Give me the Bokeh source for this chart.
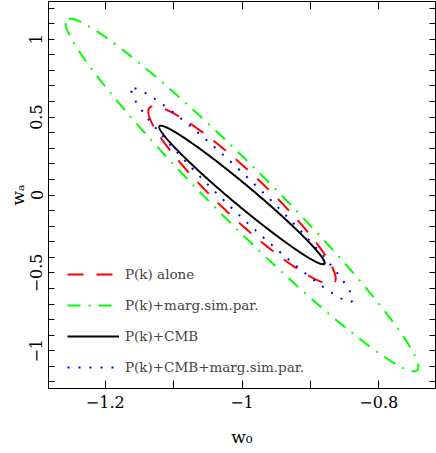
import numpy as np
from bokeh.plotting import figure
from bokeh.models import Range1d, LinearAxis, FixedTicker, Legend, LegendItem
from bokeh.embed import file_html
from bokeh.resources import INLINE

# ---------------- data ----------------
labels = ["P(k) alone", "P(k)+marg.sim.par.", "P(k)+CMB", "P(k)+CMB+marg.sim.par."]
colors = ["#ff0000", "#00ff00", "#000000", "#0000ff"]
dashes = ["16 13", "13 8 2 8", "solid", "2 9"]
w0_fid = -1.0
wa_fid = 0.0
w0_extent = [0.137, 0.258, 0.121, 0.162]   # half-extent of contour along w0
wa_extent = [0.570, 1.132, 0.445, 0.685]   # half-extent of contour along wa
rho = [-0.94, -0.975, -0.981, -0.977]      # correlation w0-wa

x_ticks = [-1.2, -1.0, -0.8]
x_tick_labels = ["\u22121.2", "\u22121", "\u22120.8"]
x_minor = [-1.3, -1.1, -0.9, -0.7]
y_ticks = [-1.0, -0.5, 0.0, 0.5, 1.0]
y_tick_labels = ["\u22121", "\u22120.5", "0", "0.5", "1"]
y_minor = [-1.2, -1.1, -0.9, -0.8, -0.7, -0.6, -0.4, -0.3, -0.2, -0.1,
           0.1, 0.2, 0.3, 0.4, 0.6, 0.7, 0.8, 0.9, 1.1, 1.2]
x_title = "w\u2080"
y_title = "w\u2090"

FONT = "DejaVu Serif"

p = figure(width=436, height=453,
           x_range=Range1d(-1.283, -0.717), y_range=Range1d(-1.242, 1.242),
           output_backend="svg", toolbar_location=None,
           min_border_left=48, min_border_right=1, min_border_top=1, min_border_bottom=65,
           x_axis_label=x_title, y_axis_label=y_title)
p.grid.visible = False
p.outline_line_color = "black"
p.background_fill_color = "white"
p.border_fill_color = "white"

t = np.linspace(0, 2 * np.pi, 600)
items = []
for lab, col, dsh, sx, sy, r in zip(labels, colors, dashes, w0_extent, wa_extent, rho):
    xs = w0_fid + sx * np.cos(t + np.pi)
    ys = wa_fid + sy * (r * np.cos(t + np.pi) + np.sqrt(1 - r * r) * np.sin(t + np.pi))
    rend = p.line(xs, ys, line_color=col, line_width=2, line_dash=dsh)
    items.append(LegendItem(label=lab, renderers=[rend]))

legend = Legend(items=items, location=(19, 11), padding=0, margin=0, spacing=11,
                glyph_width=52, glyph_height=20, label_height=20, label_standoff=6,
                label_text_font=FONT, label_text_font_size="13.5px",
                border_line_alpha=0, background_fill_alpha=0)
p.add_layout(legend)

xo = {v: s for v, s in zip(x_ticks, x_tick_labels)}
yo = {v: s for v, s in zip(y_ticks, y_tick_labels)}


def style_axis(ax, ticks, minor, tlen, overrides, show):
    ax.ticker = FixedTicker(ticks=ticks, minor_ticks=minor)
    ax.major_tick_in = tlen
    ax.major_tick_out = 0
    ax.minor_tick_in = tlen
    ax.minor_tick_out = 0
    ax.axis_line_color = "black"
    ax.major_tick_line_color = "black"
    ax.minor_tick_line_color = "black"
    if show:
        ax.major_label_overrides = overrides
        ax.major_label_text_font = FONT
        ax.major_label_text_font_size = "16px"
        ax.major_label_text_color = "black"
        ax.axis_label_text_font = FONT
        ax.axis_label_text_font_size = "17px"
        ax.axis_label_text_font_style = "normal"
        ax.axis_label_text_color = "black"
    else:
        ax.major_label_overrides = {v: "" for v in ticks}
        ax.major_label_text_font_size = "0px"
        ax.major_label_standoff = 0


style_axis(p.xaxis[0], x_ticks, x_minor, 8, xo, True)
p.xaxis[0].major_label_standoff = 7
p.xaxis[0].axis_label_standoff = 16
style_axis(p.yaxis[0], y_ticks, y_minor, 6, yo, True)
p.yaxis[0].major_label_orientation = "parallel"
p.yaxis[0].major_label_standoff = 6
p.yaxis[0].axis_label_standoff = 0

top_ax = LinearAxis()
style_axis(top_ax, x_ticks, x_minor, 8, xo, False)
p.add_layout(top_ax, "above")
right_ax = LinearAxis()
style_axis(right_ax, y_ticks, y_minor, 6, yo, False)
p.add_layout(right_ax, "right")

open("out.html", "w").write(file_html(p, INLINE))
